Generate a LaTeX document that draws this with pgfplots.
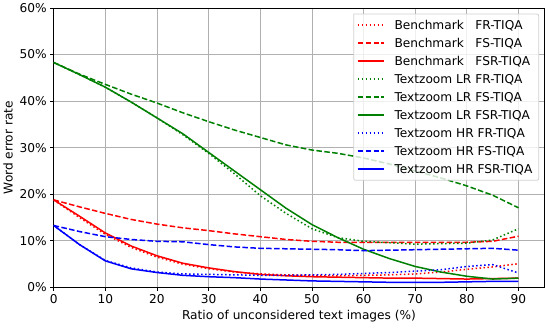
\documentclass[border=0pt]{standalone}
\usepackage{pgfplots}
\pgfplotsset{compat=1.18}
\usepackage{fontspec}
\setmainfont{DejaVu Sans}
\definecolor{mgreen}{rgb}{0,0.5,0}
\definecolor{legframe}{rgb}{0.82,0.82,0.82}
\tikzset{
  mplsolid/.style={line width=1.5pt, solid},
  mpldotted/.style={line width=1.5pt, dash pattern=on 1.5pt off 2.5pt},
  mpldashed/.style={line width=1.5pt, dash pattern=on 5.55pt off 2.4pt},
}
\begin{document}
\begin{tikzpicture}
\begin{axis}[
  name=main,
  scale only axis,
  width=491.6pt, height=280pt,
  xmin=0, xmax=95, ymin=0, ymax=60,
  xtick={0,10,...,90},
  ytick={0,10,...,60},
  yticklabels={0\%,10\%,20\%,30\%,40\%,50\%,60\%},
  /pgf/number format/assume math mode=true,
  tick label style={font=\fontsize{12.2}{14}\selectfont},
  label style={font=\fontsize{12.2}{14}\selectfont},
  xlabel={Ratio of unconsidered text images (\%)},
  ylabel={Word error rate},
  grid=major,
  grid style={color=black!31, line width=0.8pt},
  axis line style={line width=0.8pt},
  tick pos=left, tick align=outside,
  major tick length=3.5pt,
  tick style={line width=0.8pt, black},
]
\addplot[red, mpldotted] coordinates {(0,18.8)(5,15.0)(10,11.4)(15,8.6)(20,6.5)(25,5.0)(30,4.0)(35,3.3)(40,2.9)(45,2.7)(50,2.6)(55,2.5)(60,2.6)(65,2.7)(70,2.9)(75,3.3)(80,3.9)(85,4.4)(90,5.1)};
\addplot[red, mpldashed] coordinates {(0,18.8)(5,17.3)(10,15.9)(15,14.6)(20,13.6)(25,12.8)(30,12.2)(35,11.5)(40,10.9)(45,10.3)(50,9.9)(55,9.7)(60,9.7)(65,9.7)(70,9.7)(75,9.7)(80,9.7)(85,9.9)(90,11.0)};
\addplot[red, mplsolid] coordinates {(0,18.8)(5,15.3)(10,11.7)(15,8.9)(20,6.8)(25,5.2)(30,4.2)(35,3.4)(40,2.8)(45,2.5)(50,2.3)(55,2.2)(60,2.1)(65,2.0)(70,2.0)(75,1.9)(80,1.8)(85,1.9)(90,2.0)};
\addplot[mgreen, mpldotted] coordinates {(0,48.3)(5,45.7)(10,43.0)(15,39.8)(20,36.4)(25,32.8)(30,28.8)(35,24.4)(40,19.7)(45,15.9)(50,12.6)(55,10.7)(60,9.9)(65,9.6)(70,9.3)(75,9.4)(80,9.5)(85,10.2)(90,12.6)};
\addplot[mgreen, mpldashed] coordinates {(0,48.3)(5,45.8)(10,43.6)(15,41.5)(20,39.6)(25,37.5)(30,35.6)(35,33.8)(40,32.2)(45,30.6)(50,29.5)(55,28.8)(60,27.8)(65,26.5)(70,25.0)(75,23.5)(80,21.8)(85,19.8)(90,17.1)};
\addplot[mgreen, mplsolid] coordinates {(0,48.3)(5,45.7)(10,43.0)(15,39.8)(20,36.4)(25,33.0)(30,29.0)(35,25.0)(40,21.0)(45,17.0)(50,13.5)(55,10.7)(60,8.2)(65,6.2)(70,4.5)(75,3.3)(80,2.4)(85,1.8)(90,2.0)};
\addplot[blue, mpldotted] coordinates {(0,13.3)(5,9.2)(10,5.8)(15,4.2)(20,3.3)(25,2.9)(30,2.8)(35,2.7)(40,2.6)(45,2.6)(50,2.7)(55,2.8)(60,3.0)(65,3.2)(70,3.5)(75,3.8)(80,4.5)(85,4.9)(90,3.1)};
\addplot[blue, mpldashed] coordinates {(0,13.3)(5,12.0)(10,10.9)(15,10.3)(20,9.9)(25,9.8)(30,9.2)(35,8.7)(40,8.4)(45,8.3)(50,8.2)(55,8.1)(60,7.9)(65,8.0)(70,8.1)(75,8.2)(80,8.3)(85,8.4)(90,8.0)};
\addplot[blue, mplsolid] coordinates {(0,13.3)(5,9.2)(10,5.7)(15,4.0)(20,3.2)(25,2.6)(30,2.3)(35,2.1)(40,1.8)(45,1.6)(50,1.4)(55,1.3)(60,1.2)(65,1.1)(70,1.1)(75,1.1)(80,1.2)(85,1.3)(90,1.3)};
\end{axis}
% legend box, drawn as a small inset axis
\begin{axis}[
  at={(main.north east)}, anchor=north east, xshift=-5.6pt, yshift=-6pt,
  scale only axis, width=185.4pt, height=166.7pt,
  xmin=0, xmax=185.4, ymin=0, ymax=166.7, y dir=reverse,
  axis line style={draw=none}, ticks=none, clip=false,
  axis background/.style={fill=white, fill opacity=0.8},
]
\addplot[legframe, line width=0.8pt, rounded corners=2pt] coordinates {(0,0)(185.4,0)(185.4,166.7)(0,166.7)(0,0)};
\addplot[red, mpldotted] coordinates {(4,11)(30,11)};
\addplot[red, mpldashed] coordinates {(4,29.05)(30,29.05)};
\addplot[red, mplsolid] coordinates {(4,47.1)(30,47.1)};
\addplot[mgreen, mpldotted] coordinates {(4,65.15)(30,65.15)};
\addplot[mgreen, mpldashed] coordinates {(4,83.2)(30,83.2)};
\addplot[mgreen, mplsolid] coordinates {(4,101.25)(30,101.25)};
\addplot[blue, mpldotted] coordinates {(4,119.3)(30,119.3)};
\addplot[blue, mpldashed] coordinates {(4,137.35)(30,137.35)};
\addplot[blue, mplsolid] coordinates {(4,155.4)(30,155.4)};
\addplot[draw=none, mark=none, point meta=explicit symbolic, nodes near coords,
  every node near coord/.style={anchor=base west, inner sep=0pt, yshift=-4.45pt, text=black, font=\fontsize{12.2}{14}\selectfont}]
  coordinates {
  (40.7,11) [Benchmark\ \ \ FR-TIQA]
  (40.7,29.05) [Benchmark\ \ \ FS-TIQA]
  (40.7,47.1) [Benchmark\ \ \ FSR-TIQA]
  (40.7,65.15) [Textzoom LR FR-TIQA]
  (40.7,83.2) [Textzoom LR FS-TIQA]
  (40.7,101.25) [Textzoom LR FSR-TIQA]
  (40.7,119.3) [Textzoom HR FR-TIQA]
  (40.7,137.35) [Textzoom HR FS-TIQA]
  (40.7,155.4) [Textzoom HR FSR-TIQA]
  };
\end{axis}
\useasboundingbox (main.south west) ++(-52.7pt,-36pt) rectangle ++(550pt,324pt);
\end{tikzpicture}
\end{document}
